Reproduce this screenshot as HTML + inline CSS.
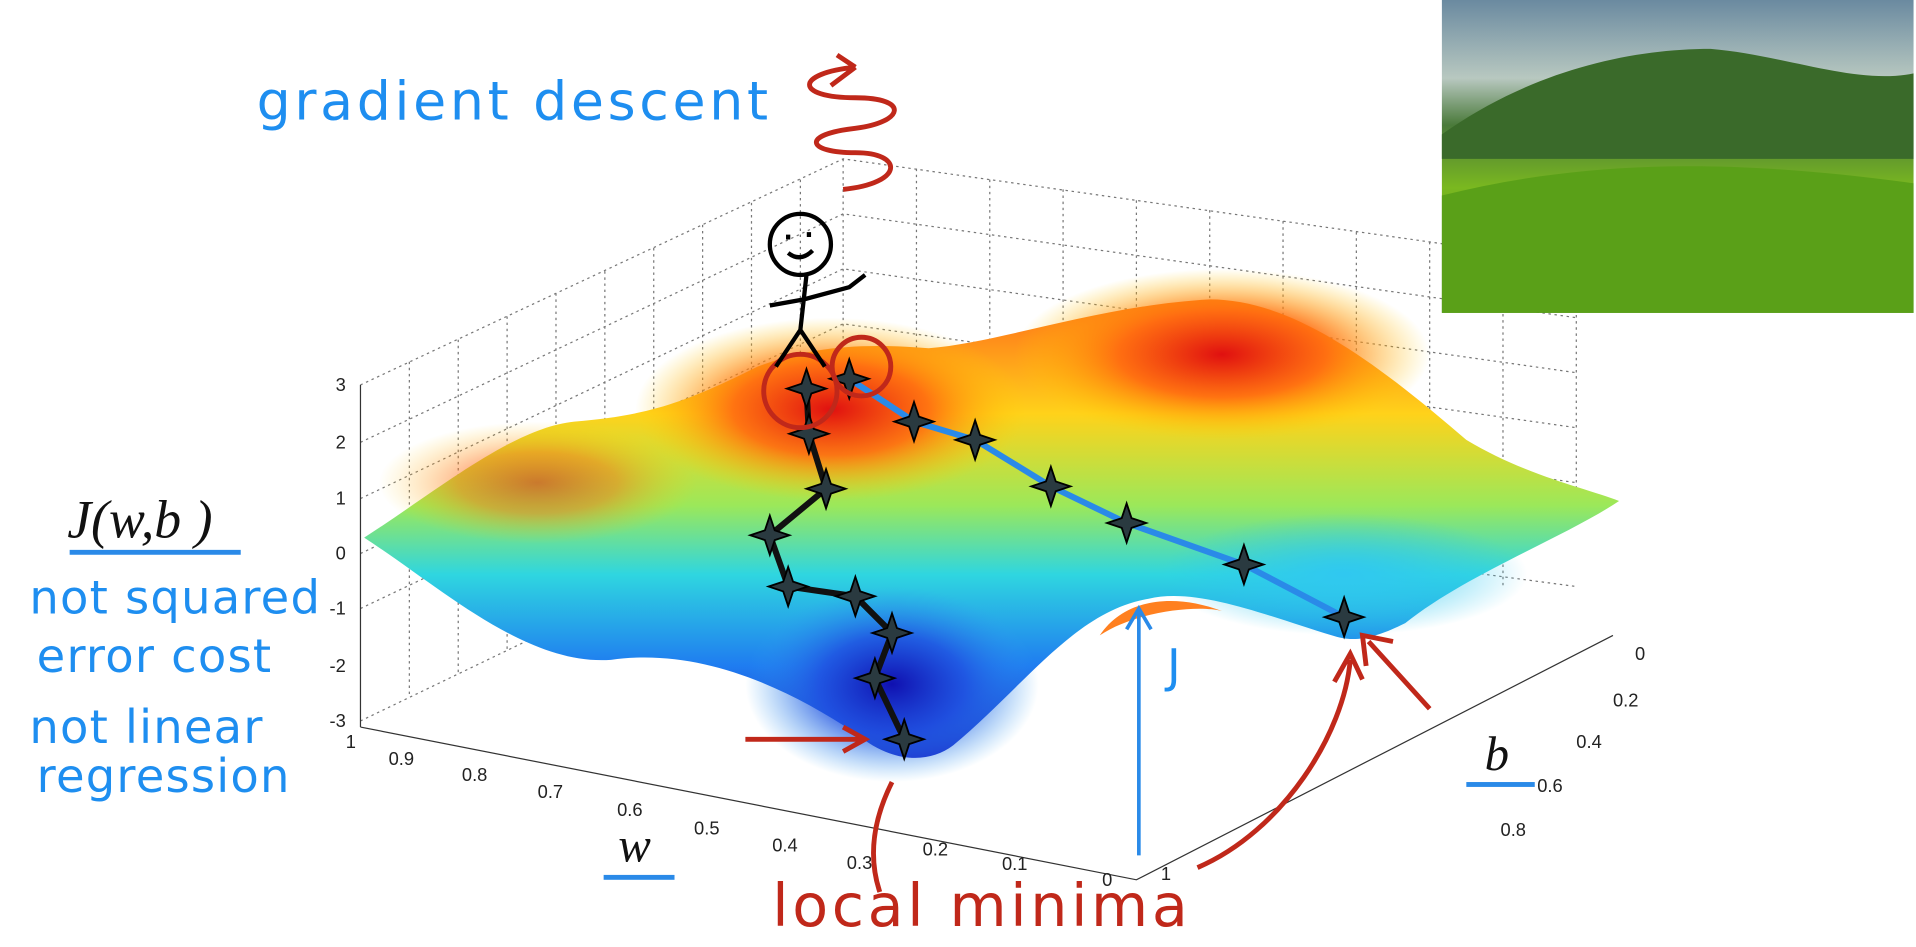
<!DOCTYPE html>
<html><head><meta charset="utf-8"><style>
html,body{margin:0;padding:0;background:#fff;}
svg{display:block;}
.hw{font-family:"DejaVu Sans","Liberation Sans",sans-serif;}
.tk{font-family:"Liberation Sans",sans-serif;font-size:15px;fill:#222;}
</style></head><body>
<svg width="1916" height="947" viewBox="0 0 1568 775" preserveAspectRatio="none" xmlns="http://www.w3.org/2000/svg">
<defs>
<linearGradient id="base" x1="0" y1="0" x2="0" y2="1">
<stop offset="0" stop-color="#ff6a1a"/><stop offset="0.25" stop-color="#ffd21a"/>
<stop offset="0.45" stop-color="#9be85a"/><stop offset="0.6" stop-color="#2fd6e0"/>
<stop offset="0.8" stop-color="#1f7cf0"/><stop offset="1" stop-color="#1a20c8"/></linearGradient>
<radialGradient id="red1" cx="0.5" cy="0.5" r="0.5"><stop offset="0" stop-color="#e01010"/><stop offset="0.5" stop-color="#ff6a10" stop-opacity="0.9"/><stop offset="1" stop-color="#ffd000" stop-opacity="0"/></radialGradient>
<radialGradient id="blue1" cx="0.5" cy="0.5" r="0.5"><stop offset="0" stop-color="#1010b0"/><stop offset="0.5" stop-color="#2050e0" stop-opacity="0.8"/><stop offset="1" stop-color="#30a0f0" stop-opacity="0"/></radialGradient>
<radialGradient id="cyan1" cx="0.5" cy="0.5" r="0.5"><stop offset="0" stop-color="#30c8f0"/><stop offset="1" stop-color="#30c8f0" stop-opacity="0"/></radialGradient>
<linearGradient id="sky" x1="0" y1="0" x2="0" y2="1"><stop offset="0" stop-color="#6a8aa0"/><stop offset="0.25" stop-color="#b8c8c0"/><stop offset="0.4" stop-color="#4a7a3a"/><stop offset="0.6" stop-color="#7ab820"/><stop offset="1" stop-color="#3a7a10"/></linearGradient>
</defs>
<g stroke="#777" stroke-dasharray="2,3" stroke-width="1" fill="none">
<path d="M295 315 L690 130 L1290 215 L1290 410"/>
<path d="M295 590 L690 400 L1290 480"/>
<path d="M690 130 L690 400"/>
<path d="M295 362 L690 175 L1290 260"/><path d="M295 408 L690 220 L1290 305"/>
<path d="M295 453 L690 265 L1290 350"/><path d="M295 498 L690 310 L1290 395"/>
<path d="M750 138 L750 410"/><path d="M810 147 L810 420"/><path d="M870 155 L870 430"/><path d="M930 164 L930 440"/><path d="M990 172 L990 450"/><path d="M1050 181 L1050 460"/><path d="M1110 190 L1110 470"/><path d="M1170 198 L1170 480"/><path d="M1230 207 L1230 480"/>
<path d="M335 296 L335 570"/><path d="M375 278 L375 550"/><path d="M415 259 L415 532"/><path d="M455 240 L455 513"/><path d="M495 222 L495 495"/><path d="M535 203 L535 476"/><path d="M575 184 L575 457"/><path d="M615 166 L615 438"/><path d="M655 147 L655 419"/>
</g>
<line x1="295" y1="315" x2="295" y2="595" stroke="#333"/>
<g class="tk" text-anchor="end">
<text x="283" y="320">3</text><text x="283" y="367">2</text><text x="283" y="413">1</text><text x="283" y="458">0</text><text x="283" y="503">-1</text><text x="283" y="550">-2</text><text x="283" y="595">-3</text></g>
<path d="M295 595 L930 720 L1320 520" stroke="#333" fill="none"/>
<g class="tk">
<text x="283" y="612">1</text><text x="318" y="626">0.9</text><text x="378" y="639">0.8</text><text x="440" y="653">0.7</text><text x="505" y="668">0.6</text><text x="568" y="683">0.5</text><text x="632" y="697">0.4</text><text x="693" y="711">0.3</text><text x="755" y="700">0.2</text><text x="820" y="712">0.1</text><text x="902" y="725">0</text>
<text x="1338" y="540">0</text><text x="1320" y="578">0.2</text><text x="1290" y="612">0.4</text><text x="1258" y="648">0.6</text><text x="1228" y="684">0.8</text><text x="950" y="720">1</text></g>
<path d="M298 440 C360 400,420 350,470 345 C530 340,560 330,620 300 C660 285,700 280,760 285 C820 280,900 250,990 245 C1060 245,1130 300,1200 360 C1250 390,1300 400,1325 410 C1280 440,1200 470,1150 510 C1120 525,1105 525,1090 520 C1040 505,980 480,940 490 C880 500,840 560,780 610 C760 625,730 625,700 600 C640 560,570 530,500 540 C430 545,360 480,298 440 Z" fill="url(#base)"/>
<ellipse cx="680" cy="335" rx="160" ry="75" fill="url(#red1)"/>
<ellipse cx="1000" cy="290" rx="170" ry="70" fill="url(#red1)"/>
<ellipse cx="440" cy="395" rx="130" ry="50" fill="url(#red1)" opacity="0.5"/>
<ellipse cx="730" cy="560" rx="120" ry="80" fill="url(#blue1)"/>
<ellipse cx="1100" cy="470" rx="150" ry="50" fill="url(#cyan1)"/>
<path d="M900 520 C920 490,960 485,1000 500 C980 495,930 500,900 520Z" fill="#ff8020"/>
<polyline points="695,310 748,345 798,360 860,398 922,428 1018,462 1100,505" fill="none" stroke="#2a8ae8" stroke-width="5"/>
<polyline points="660,318 662,355 676,400 630,438 645,480 700,488 730,518 716,555 740,605" fill="none" stroke="#111" stroke-width="5"/>
<g fill="#2a3a40" stroke="#000" stroke-width="1.5">
<path transform="translate(660,318)" d="M0 -16 L4 -4 L16 0 L4 4 L0 16 L-4 4 L-16 0 L-4 -4Z"/>
<path transform="translate(695,310)" d="M0 -16 L4 -4 L16 0 L4 4 L0 16 L-4 4 L-16 0 L-4 -4Z"/>
<path transform="translate(748,345)" d="M0 -16 L4 -4 L16 0 L4 4 L0 16 L-4 4 L-16 0 L-4 -4Z"/>
<path transform="translate(798,360)" d="M0 -16 L4 -4 L16 0 L4 4 L0 16 L-4 4 L-16 0 L-4 -4Z"/>
<path transform="translate(860,398)" d="M0 -16 L4 -4 L16 0 L4 4 L0 16 L-4 4 L-16 0 L-4 -4Z"/>
<path transform="translate(922,428)" d="M0 -16 L4 -4 L16 0 L4 4 L0 16 L-4 4 L-16 0 L-4 -4Z"/>
<path transform="translate(1018,462)" d="M0 -16 L4 -4 L16 0 L4 4 L0 16 L-4 4 L-16 0 L-4 -4Z"/>
<path transform="translate(1100,505)" d="M0 -16 L4 -4 L16 0 L4 4 L0 16 L-4 4 L-16 0 L-4 -4Z"/>
<path transform="translate(662,355)" d="M0 -16 L4 -4 L16 0 L4 4 L0 16 L-4 4 L-16 0 L-4 -4Z"/>
<path transform="translate(676,400)" d="M0 -16 L4 -4 L16 0 L4 4 L0 16 L-4 4 L-16 0 L-4 -4Z"/>
<path transform="translate(630,438)" d="M0 -16 L4 -4 L16 0 L4 4 L0 16 L-4 4 L-16 0 L-4 -4Z"/>
<path transform="translate(645,480)" d="M0 -16 L4 -4 L16 0 L4 4 L0 16 L-4 4 L-16 0 L-4 -4Z"/>
<path transform="translate(700,488)" d="M0 -16 L4 -4 L16 0 L4 4 L0 16 L-4 4 L-16 0 L-4 -4Z"/>
<path transform="translate(730,518)" d="M0 -16 L4 -4 L16 0 L4 4 L0 16 L-4 4 L-16 0 L-4 -4Z"/>
<path transform="translate(716,555)" d="M0 -16 L4 -4 L16 0 L4 4 L0 16 L-4 4 L-16 0 L-4 -4Z"/>
<path transform="translate(740,605)" d="M0 -16 L4 -4 L16 0 L4 4 L0 16 L-4 4 L-16 0 L-4 -4Z"/>
</g>
<g fill="none" stroke="#c0281a" stroke-width="4">
<circle cx="655" cy="320" r="30"/><circle cx="705" cy="300" r="24"/>
<path d="M700 55 C650 60,650 80,700 80 C745 80,740 100,700 105 C655 110,660 125,700 125 C740 125,740 150,690 155 M700 55 L680 70 M700 55 L685 45"/>
<path d="M610 605 L705 605 M690 595 L708 605 L690 615"/>
<path d="M1170 580 L1120 525 M1118 545 L1115 520 L1140 525"/>
<path d="M730 640 C715 670,710 700,720 730"/>
<path d="M980 710 C1050 680,1100 600,1105 540 M1092 558 L1105 535 L1115 556"/>
</g>
<g fill="none" stroke="#000" stroke-width="3.5">
<circle cx="655" cy="200" r="25"/>
<path d="M645 192 l0 4 M662 190 l0 4 M645 207 q10 8 20 -2"/>
<path d="M660 225 L655 270 L635 300 M655 270 L675 300 M630 250 L658 245 L695 235 L708 225"/>
</g>
<path d="M932 700 L932 500 M922 515 L932 498 L942 515" stroke="#2a8ae8" stroke-width="3" fill="none"/>
<rect x="1180" y="0" width="386" height="256" fill="url(#sky)"/>
<path d="M1180 110 C1250 60,1330 40,1400 40 C1460 45,1520 70,1566 60 L1566 130 L1180 130Z" fill="#3a6a2a"/>
<path d="M1180 160 C1300 130,1420 130,1566 150 L1566 256 L1180 256Z" fill="#5aa018"/>
<g class="hw" fill="#1e8ef0">
<text x="210" y="98" font-size="44" letter-spacing="3">gradient descent</text>
<text x="24" y="502" font-size="38" letter-spacing="1">not squared</text>
<text x="30" y="550" font-size="38" letter-spacing="1">error cost</text>
<text x="24" y="608" font-size="38" letter-spacing="1">not linear</text>
<text x="30" y="648" font-size="38" letter-spacing="1">regression</text>
<text x="955" y="558" font-size="38">J</text>
</g>
<text x="55" y="440" font-family="Liberation Serif,serif" font-style="italic" font-size="44" fill="#111">J(w,b )</text>
<rect x="57" y="450" width="140" height="4" fill="#2a8ae8"/>
<text x="506" y="705" font-family="Liberation Serif,serif" font-style="italic" font-size="40" fill="#111">w</text>
<rect x="494" y="716" width="58" height="4" fill="#2a8ae8"/>
<text x="1215" y="630" font-family="Liberation Serif,serif" font-style="italic" font-size="40" fill="#111">b</text>
<rect x="1200" y="640" width="56" height="4" fill="#2a8ae8"/>
<text x="632" y="758" class="hw" font-size="48" fill="#c0281a" letter-spacing="3">local minima</text>
</svg>
</body></html>
